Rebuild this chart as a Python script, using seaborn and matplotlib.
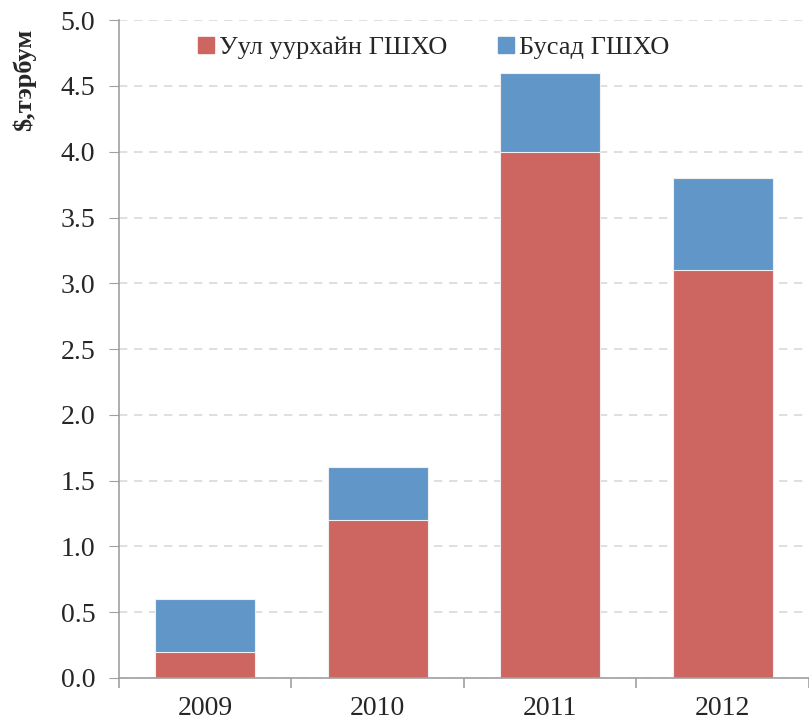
import matplotlib
matplotlib.use("Agg")
import matplotlib.pyplot as plt
import matplotlib.patches as mpatches
import seaborn as sns
import pandas as pd

years = ["2009", "2010", "2011", "2012"]
mining = [0.2, 1.2, 4.0, 3.1]
other = [0.4, 0.4, 0.6, 0.7]
labels = ["Уул уурхайн ГШХО", "Бусад ГШХО"]
red = "#CD6660"
blue = "#6196C8"

df = pd.DataFrame({"year": years, "mining": mining, "other": other})
df["total"] = df["mining"] + df["other"]

sns.set_style("white")
plt.rcParams["font.family"] = ["Liberation Serif", "DejaVu Serif"]

fig = plt.figure(figsize=(8.09, 7.22), dpi=100)
ax = fig.add_axes([0.147, 0.061, 0.853, 0.911])

# blue stack = total, red drawn over it from zero
sns.barplot(data=df, x="year", y="total", color=blue, width=0.58,
            saturation=1, edgecolor="#F0F0F0", linewidth=0.8, ax=ax)
sns.barplot(data=df, x="year", y="mining", color=red, width=0.58,
            saturation=1, edgecolor="#F0F0F0", linewidth=0.8, ax=ax)

ax.set_ylim(0, 5.0)
ax.set_xlim(-0.5, 3.5)
ax.set_yticks([i * 0.5 for i in range(11)])
ax.set_yticklabels([f"{i * 0.5:.1f}" for i in range(11)])
ax.yaxis.grid(True, linestyle=(0, (5, 4)), color="#D9D9D9", linewidth=1.2)
ax.set_axisbelow(True)

ax.set_xlabel("")
ax.set_ylabel("$,тэрбум", fontsize=19, fontweight="bold")
ax.yaxis.set_label_coords(-0.12, 0.91)

for s in ["top", "right"]:
    ax.spines[s].set_visible(False)
for s in ["left", "bottom"]:
    ax.spines[s].set_color("#A0A0A0")
    ax.spines[s].set_linewidth(1.2)

ax.tick_params(axis="y", length=7, color="#A0A0A0", labelsize=20, pad=10, left=True)
ax.tick_params(axis="x", which="major", length=0, labelsize=20, pad=13)
ax.set_xticks([-0.5, 0.5, 1.5, 2.5, 3.5], minor=True)
ax.tick_params(axis="x", which="minor", length=7, color="#A0A0A0", width=1.2, bottom=True)

handles = [mpatches.Patch(color=red, label=labels[0]),
           mpatches.Patch(color=blue, label=labels[1])]
ax.legend(handles=handles, loc="center", bbox_to_anchor=(0.456, 0.958), ncol=2,
          frameon=False, fontsize=19, handlelength=0.6, handleheight=0.6,
          handletextpad=0.2, columnspacing=1.9)

fig.savefig("out.png", dpi=100)
